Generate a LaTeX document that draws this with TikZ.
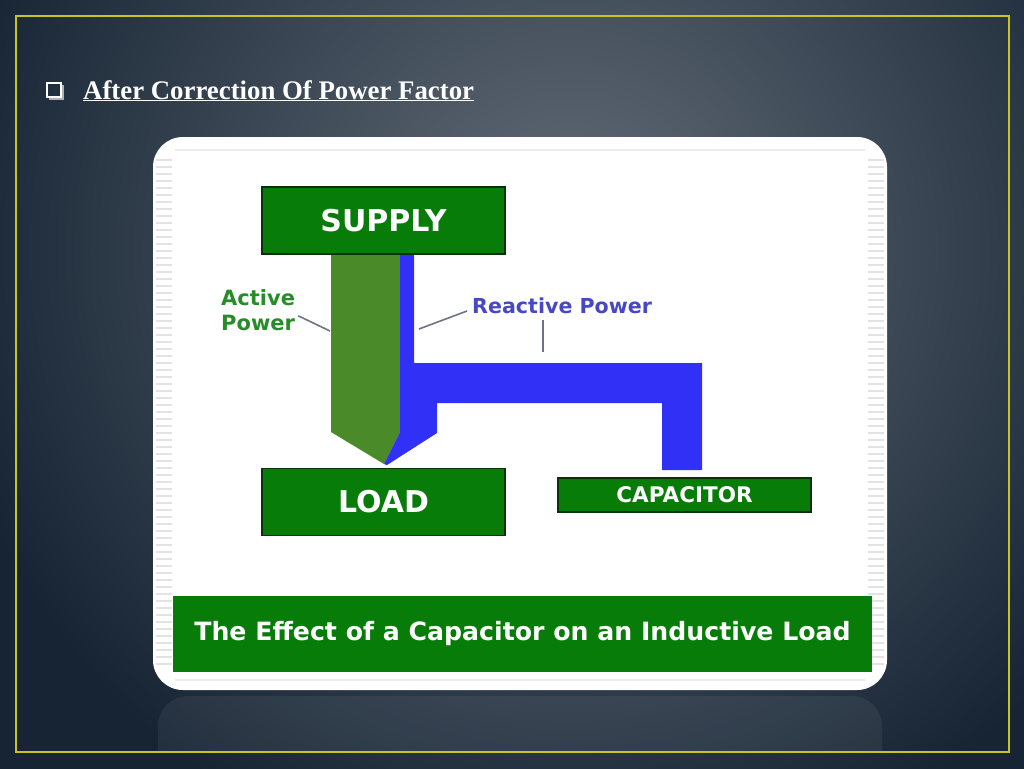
\documentclass[tikz,border=0pt]{standalone}
\usepackage{fontspec}
\setmainfont{Liberation Serif}
\newfontfamily\diagfont{DejaVu Sans}
\usepackage{xcolor}
\usepackage{tikz}
\usetikzlibrary{positioning,shadings}

\definecolor{bgdark}{RGB}{22,36,52}
\definecolor{bglight}{RGB}{100,110,120}
\definecolor{framegold}{RGB}{200,196,40}
\definecolor{boxgreen}{RGB}{8,124,8}
\definecolor{boxedge}{RGB}{10,50,10}
\definecolor{activegreen}{RGB}{74,138,40}
\definecolor{reactblue}{RGB}{48,48,246}
\definecolor{activetext}{RGB}{40,140,40}
\definecolor{reacttext}{RGB}{72,72,196}
\definecolor{leadergray}{RGB}{110,116,136}

\begin{document}
\begin{tikzpicture}[
    x=1pt, y=-1pt,
    box/.style={rectangle, draw=boxedge, line width=1.2pt, fill=boxgreen, text=white, inner sep=0pt, minimum width=243pt, minimum height=67pt, font=\diagfont\bfseries\fontsize{30}{32}\selectfont},
    smallbox/.style={box, minimum width=253pt, minimum height=34pt, font=\diagfont\bfseries\fontsize{21.5}{23}\selectfont},
    banner/.style={rectangle, fill=boxgreen, text=white, inner sep=0pt, minimum width=699pt, minimum height=76pt, font=\diagfont\bfseries\fontsize{25.2}{28}\selectfont},
    actlabel/.style={align=left, inner sep=0pt, text=activetext, font=\diagfont\bfseries\fontsize{21}{25}\selectfont},
    reactlabel/.style={inner sep=0pt, text=reacttext, font=\diagfont\bfseries\fontsize{20.6}{23}\selectfont},
    leader/.style={leadergray, line width=1.6pt},
    stripe/.style={gray!22, line width=1.4pt}
]
\useasboundingbox (0,0) rectangle (1024,768);

% slide background and frame
\begin{scope}
  \clip (-4,-4) rectangle (1028,772);
  \fill[bgdark] (-4,-4) rectangle (1028,772);
  \shade[inner color=bglight, outer color=bgdark] (570,250) circle[radius=640];
\end{scope}
% faint reflection under the panel
\begin{scope}
  \clip (0,690) rectangle (1024,752);
  \fill[white, opacity=0.06, rounded corners=30pt] (158,696) rectangle (882,800);
\end{scope}
\draw[framegold, line width=2pt] (16,16) rectangle (1009,752);

% heading
\draw[gray!60, line width=2pt] (49,99) -- (63,99) -- (63,85);
\node[draw=white, line width=1.8pt, minimum size=14pt, inner sep=0pt] (bullet) at (54,90) {};
\node[anchor=base west, inner sep=0pt, text=white, font=\bfseries\fontsize{26.8}{30}\selectfont] (title) at (83,99) {\underline{After Correction Of Power Factor}};

% white panel
\fill[white, rounded corners=30pt] (153,137) rectangle (887,690);
\foreach \y in {160,167,...,670} {
  \draw[stripe] (156,\y) -- (172,\y);
  \draw[stripe] (868,\y) -- (884,\y);
}
\draw[gray!15, line width=1.5pt] (175,150) -- (865,150);
\draw[gray!15, line width=1.5pt] (175,680) -- (865,680);

% power flows
\fill[activegreen] (331,254) -- (400,254) -- (400,432) -- (384,464) -- (331,432) -- cycle;
\fill[reactblue] (400,254) -- (414,254) -- (414,363) -- (702,363) -- (702,470) -- (662,470)
  -- (662,403) -- (437,403) -- (437,433) -- (387,465) -- (384,464) -- (400,432) -- cycle;

% blocks
\node[box] (supply) at (383.5,220.5) {SUPPLY};
\node[box, below=213pt of supply] (load) {LOAD};
\node[smallbox] (capacitor) at (684.5,495) {CAPACITOR};
\node[banner] (caption) at (522.5,634) {The Effect of a Capacitor on an Inductive Load};

% labels
\node[actlabel, anchor=north west] (active) at (221,289) {Active\\Power};
\node[reactlabel, anchor=west] (reactive) at (472,306) {Reactive Power};
\coordinate (actend) at (330,331);
\coordinate (reacttick) at (543,352);
\coordinate (reactend) at (419,329);
\draw[leader] ([xshift=3pt,yshift=-6pt]active.east) -- (actend);
\draw[leader] ([xshift=-5pt,yshift=-5pt]reactive.west) -- (reactend);
\draw[leader] ([yshift=-6pt]reactive.south -| reacttick) -- (reacttick);
\end{tikzpicture}
\end{document}
